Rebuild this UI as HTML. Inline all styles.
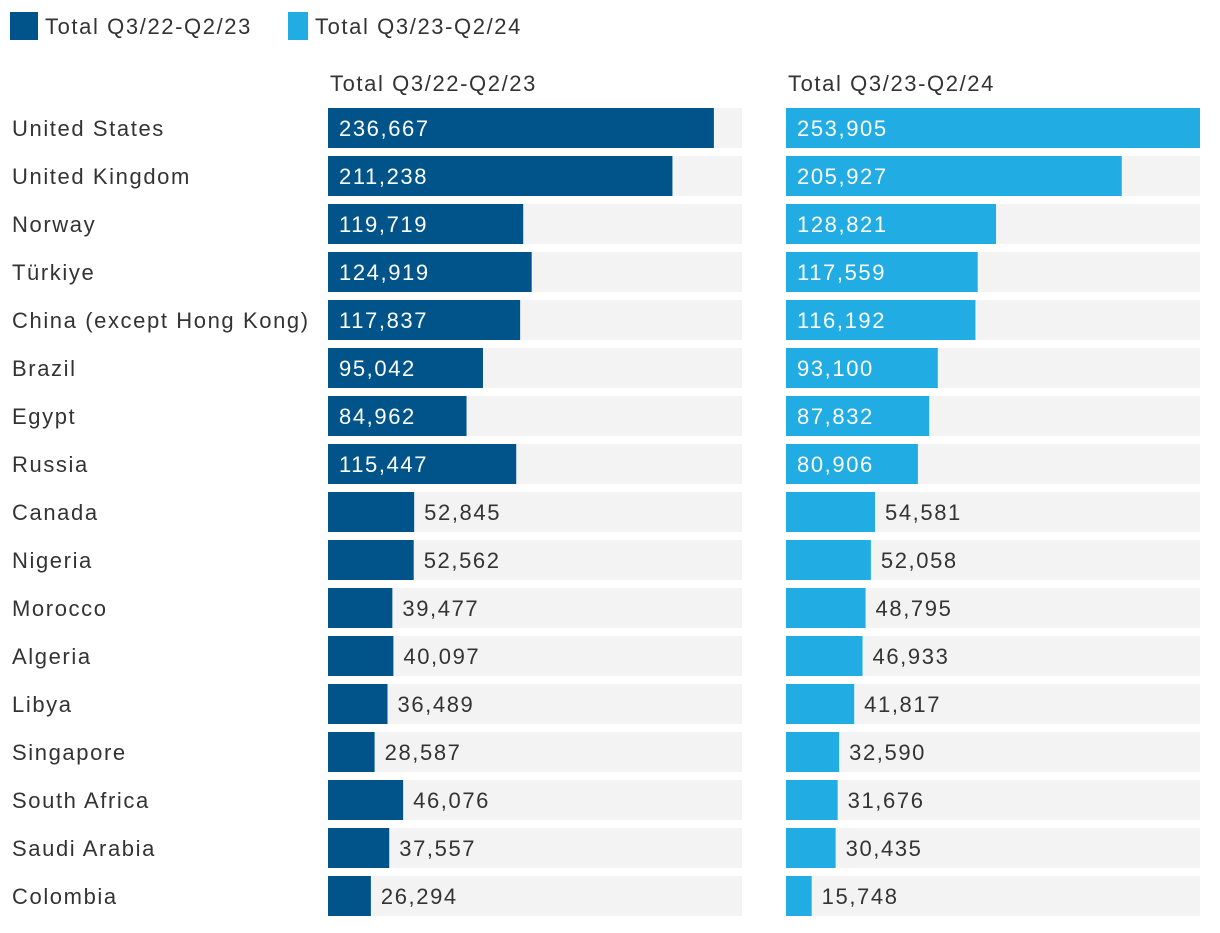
<!DOCTYPE html>
<html><head><meta charset="utf-8"><style>
body{margin:0;background:#fff;width:1220px;height:928px;overflow:hidden;font-family:"Liberation Sans",sans-serif}
svg text{font-family:"Liberation Sans",sans-serif;letter-spacing:1.6px}
</style></head><body>
<svg id="chart" width="1220" height="928" xmlns="http://www.w3.org/2000/svg">
<g>
<rect x="10" y="12" width="28" height="28" fill="#00548a"/>
<text x="45" y="34" font-size="22" fill="#333">Total Q3/22-Q2/23</text>
<rect x="288" y="12" width="20" height="28" fill="#21ade3"/>
<text x="315" y="34" font-size="22" fill="#333">Total Q3/23-Q2/24</text>
</g>
<text x="330" y="91" font-size="22" fill="#333">Total Q3/22-Q2/23</text>
<text x="788" y="91" font-size="22" fill="#333">Total Q3/23-Q2/24</text>
<g id="rows"></g>
</svg>
<script>
const categories=["United States","United Kingdom","Norway","Türkiye","China (except Hong Kong)","Brazil","Egypt","Russia","Canada","Nigeria","Morocco","Algeria","Libya","Singapore","South Africa","Saudi Arabia","Colombia"];
const series2223=[236667,211238,119719,124919,117837,95042,84962,115447,52845,52562,39477,40097,36489,28587,46076,37557,26294];
const series2324=[253905,205927,128821,117559,116192,93100,87832,80906,54581,52058,48795,46933,41817,32590,31676,30435,15748];
const maxV=Math.max(...series2223,...series2324);
const panelW=414, top0=108, pitch=48, barH=40;
const x=v=>v/maxV*panelW;
const y=i=>top0+i*pitch;
const NS="http://www.w3.org/2000/svg";
const g=document.getElementById('rows');
function mk(tag,attrs){const e=document.createElementNS(NS,tag);for(const k in attrs)e.setAttribute(k,attrs[k]);return e;}
const fmt=v=>v.toLocaleString('en-US');
categories.forEach((c,i)=>{
  const t=mk('text',{x:12,y:y(i)+28,'font-size':22,fill:'#333'});
  t.textContent=c;
  
  
  g.appendChild(t);
  [[328,series2223,'#00548a','2223'],[786,series2324,'#21ade3','2324']].forEach(([x0,s,col,key])=>{
    const bg=mk('rect',{x:x0,y:y(i),width:panelW,height:barH,fill:'#f3f3f3'});
    
    
    g.appendChild(bg);
    const w=x(s[i]);
    const b=mk('rect',{x:x0,y:y(i),width:w,height:barH,fill:col});
    
    
    g.appendChild(b);
    const inside=s[i]>70000;
    const lt=mk('text',{x:inside?x0+11:x0+w+10,y:y(i)+28,'font-size':22,fill:inside?'#fff':'#333'});
    lt.textContent=fmt(s[i]);
    
    
    g.appendChild(lt);
  });
});
</script>
</body></html>
